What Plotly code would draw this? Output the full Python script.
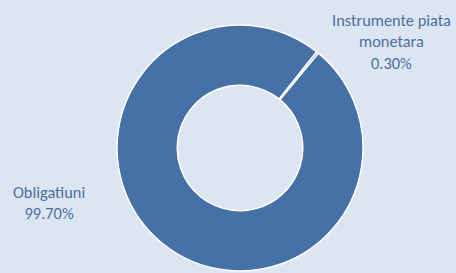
import plotly.graph_objects as go

categories = ["Instrumente piata monetara", "Obligatiuni"]
label_lines = ["Instrumente piata<br>monetara", "Obligatiuni"]
values = [0.30, 99.70]

W, H = 456, 273
cx, cy, r = 240, 148, 123

fig = go.Figure(go.Pie(
    labels=categories,
    values=values,
    hole=0.51,
    sort=False,
    direction="clockwise",
    rotation=38.5,
    textinfo="none",
    hoverinfo="label+percent",
    marker=dict(colors=["#4571A6", "#4571A6"], line=dict(color="white", width=1.5)),
    domain=dict(x=[(cx - r) / W, (cx + r) / W], y=[(H - cy - r) / H, (H - cy + r) / H]),
    showlegend=False,
))

label_pos = [(391, 41), (49, 202.5)]
for txt, v, (lx, ly) in zip(label_lines, values, label_pos):
    fig.add_annotation(
        text=f"{txt}<br>{v:.2f}%",
        x=lx / W, y=1 - ly / H, xref="paper", yref="paper",
        xanchor="center", yanchor="middle", showarrow=False,
        font=dict(family="Carlito, Lato, sans-serif", size=16.4, color="#4E6E9F"),
        align="center",
    )

fig.update_layout(
    width=W, height=H,
    margin=dict(l=0, r=0, t=0, b=0),
    paper_bgcolor="#DCE6F2",
    plot_bgcolor="#DCE6F2",
)
fig.write_html(
    "out.html",
    config={"displayModeBar": False},
    post_script="document.body.style.margin='0';document.body.style.background='#DCE6F2';",
)
